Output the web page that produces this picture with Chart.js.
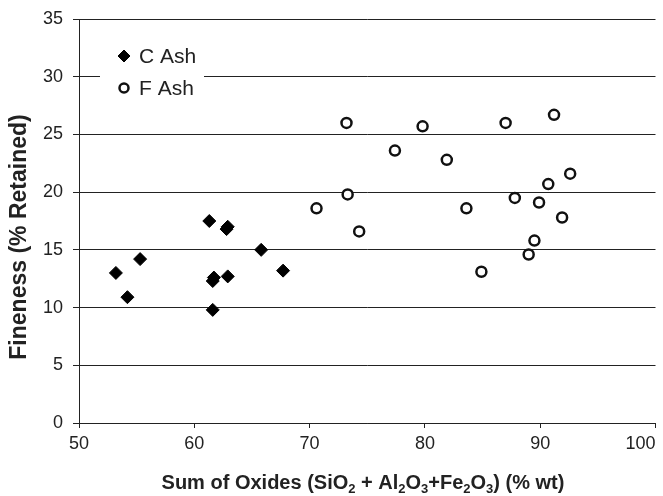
<!DOCTYPE html>
<html>
<head>
<meta charset="utf-8">
<script src="https://cdn.jsdelivr.net/npm/chart.js@4.4.1/dist/chart.umd.min.js"></script>
<style>
  html, body { margin: 0; padding: 0; background: #fff; }
  #wrap { width: 663px; height: 496px; }
</style>
</head>
<body>
<div id="wrap"><canvas id="oxide-chart"></canvas></div>
<script>
// data
var seriesNames = ['C Ash', 'F Ash'];
var cAshX = [53.2, 54.2, 55.3, 61.3, 62.9, 62.8, 61.7, 61.6, 62.9, 61.6, 65.8, 67.7];
var cAshY = [13.0, 10.9, 14.2, 17.5, 17.0, 16.8, 12.6, 12.3, 12.7, 9.8, 15.0, 13.2];
var fAshX = [73.2, 79.8, 87.0, 91.2, 77.4, 81.9, 92.6, 90.7, 73.3, 87.8, 89.9, 70.6, 83.6, 91.9, 74.3, 89.5, 89.0, 84.9];
var fAshY = [26.0, 25.7, 26.0, 26.7, 23.6, 22.8, 21.6, 20.7, 19.8, 19.5, 19.1, 18.6, 18.6, 17.8, 16.6, 15.8, 14.6, 13.1];
var xTicks = [50, 60, 70, 80, 90, 100];
var yTicks = [0, 5, 10, 15, 20, 25, 30, 35];

var FONT = '"Liberation Sans", Arial, sans-serif';
var INK = '#222';

function toPoints(xs, ys) {
  return xs.map(function (x, i) { return { x: x, y: ys[i] }; });
}

// axis titles + legend box drawn by hand (excel-style placement)
var decorations = {
  id: 'decorations',
  afterDraw: function (chart) {
    var ctx = chart.ctx;
    ctx.save();
    ctx.fillStyle = INK;

    // y title
    ctx.translate(20, 237);
    ctx.rotate(-Math.PI / 2);
    ctx.font = 'bold 23px ' + FONT;
    ctx.textAlign = 'center';
    ctx.textBaseline = 'middle';
    ctx.fillText('Fineness (% Retained)', 0, 0);
    ctx.setTransform(1, 0, 0, 1, 0, 0);

    // x title with subscripts
    var parts = [['Sum of Oxides (SiO', 0], ['2', 1], [' + Al', 0], ['2', 1], ['O', 0], ['3', 1],
                 ['+Fe', 0], ['2', 1], ['O', 0], ['3', 1], [') (% wt)', 0]];
    var big = 'bold 20px ' + FONT, small = 'bold 13px ' + FONT;
    var total = 0;
    parts.forEach(function (p) { ctx.font = p[1] ? small : big; total += ctx.measureText(p[0]).width; });
    var x = 363 - total / 2;
    ctx.textAlign = 'left';
    ctx.textBaseline = 'alphabetic';
    parts.forEach(function (p) {
      ctx.font = p[1] ? small : big;
      ctx.fillText(p[0], x, p[1] ? 493 : 489);
      x += ctx.measureText(p[0]).width;
    });

    // legend
    ctx.fillStyle = '#fff';
    ctx.fillRect(100, 40, 104, 64);
    var rows = [56, 88];
    chart.data.datasets.forEach(function (ds, i) {
      ctx.fillStyle = ds.backgroundColor;
      ctx.strokeStyle = ds.borderColor;
      ctx.lineWidth = ds.borderWidth;
      Chart.helpers.drawPoint(ctx, {
        pointStyle: ds.pointStyle, radius: ds.pointRadius - 0.5, rotation: 0, borderWidth: ds.borderWidth
      }, 124, rows[i]);
      ctx.fillStyle = INK;
      ctx.font = '21px ' + FONT;
      ctx.textBaseline = 'middle';
      ctx.fillText(ds.label, 139, rows[i] + 1);
    });
    ctx.restore();
  }
};

var ctx1 = document.querySelector('#oxide-chart').getContext('2d');
var chart1 = new Chart(ctx1, {
  type: 'scatter',
  data: {
    datasets: [{
      label: seriesNames[0],
      data: toPoints(cAshX, cAshY),
      pointStyle: 'rectRot',
      pointRadius: 6.5,
      backgroundColor: '#000',
      borderColor: '#000',
      borderWidth: 1
    }, {
      label: seriesNames[1],
      data: toPoints(fAshX, fAshY),
      pointStyle: 'circle',
      pointRadius: 5,
      backgroundColor: '#fff',
      borderColor: '#111',
      borderWidth: 2.5
    }]
  },
  options: {
    responsive: true,
    maintainAspectRatio: false,
    animation: false,
    layout: { padding: { top: 19, right: 4, bottom: 0, left: 0 } },
    plugins: {
      legend: { display: false },
      tooltip: { enabled: false }
    },
    scales: {
      x: {
        type: 'linear',
        min: xTicks[0],
        max: xTicks[xTicks.length - 1],
        afterBuildTicks: function (s) { s.ticks = xTicks.map(function (v) { return { value: v }; }); },
        afterFit: function (s) { s.height = 73; s.paddingLeft = 0; s.paddingRight = 0; },
        ticks: {
          color: INK,
          font: { family: FONT, size: 18 },
          padding: 5,
          maxRotation: 0,
          // last label sits inside the canvas like the original
          callback: function (v) { return v === 100 ? '100      ' : String(v); }
        },
        grid: { drawOnChartArea: false, drawTicks: true, tickLength: 5, color: INK },
        border: { color: INK, width: 1 }
      },
      y: {
        min: yTicks[0],
        max: yTicks[yTicks.length - 1],
        afterBuildTicks: function (s) { s.ticks = yTicks.map(function (v) { return { value: v }; }); },
        afterFit: function (s) { s.width = 79; s.paddingTop = 0; s.paddingBottom = 0; },
        ticks: {
          color: INK,
          font: { family: FONT, size: 18 },
          padding: 10
        },
        grid: { color: INK, lineWidth: 1, tickLength: 6 },
        border: { color: INK, width: 1 }
      }
    }
  },
  plugins: [decorations]
});
</script>
</body>
</html>
